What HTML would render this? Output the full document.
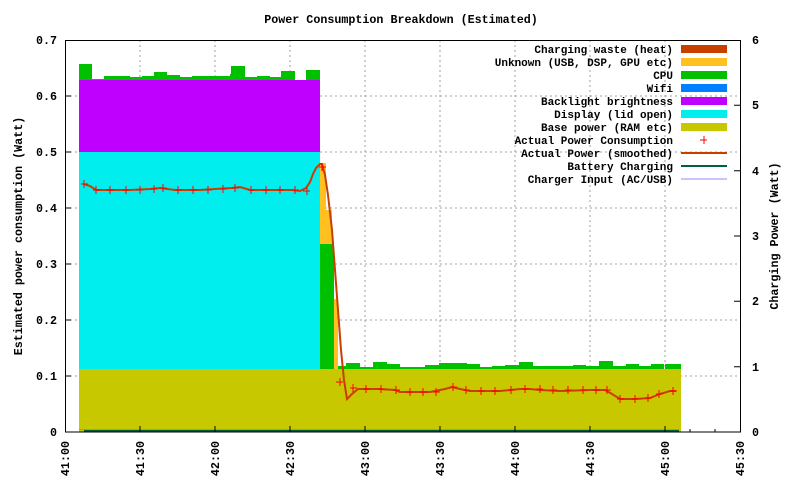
<!DOCTYPE html>
<html><head><meta charset="utf-8"><style>
body{margin:0;background:#fff}
svg text{font-family:"Liberation Mono",monospace;font-size:11.7px;font-weight:bold;fill:#000}
svg .lg text{font-size:11px}
</style></head><body>
<svg width="800" height="480" xmlns="http://www.w3.org/2000/svg">
<rect width="800" height="480" fill="#fff"/>
<text x="401" y="23" text-anchor="middle">Power Consumption Breakdown (Estimated)</text>
<g stroke="#a0a0a0" stroke-dasharray="2,3" stroke-width="1">
<line x1="65" y1="96" x2="740" y2="96"/><line x1="65" y1="152" x2="740" y2="152"/>
<line x1="65" y1="208" x2="740" y2="208"/><line x1="65" y1="264" x2="740" y2="264"/>
<line x1="65" y1="320" x2="740" y2="320"/><line x1="65" y1="376" x2="740" y2="376"/>
<line x1="140" y1="40" x2="140" y2="432"/><line x1="215" y1="40" x2="215" y2="432"/>
<line x1="290" y1="40" x2="290" y2="432"/><line x1="365" y1="40" x2="365" y2="432"/>
<line x1="440" y1="40" x2="440" y2="432"/><line x1="515" y1="40" x2="515" y2="432"/>
<line x1="590" y1="40" x2="590" y2="432"/><line x1="665" y1="40" x2="665" y2="432"/>
</g>
<g shape-rendering="crispEdges">
<rect x="79" y="64" width="13" height="20" fill="#00c000"/>
<rect x="92" y="79" width="12" height="5" fill="#00c000"/>
<rect x="104" y="76" width="26" height="8" fill="#00c000"/>
<rect x="130" y="77" width="12" height="7" fill="#00c000"/>
<rect x="142" y="76" width="12" height="8" fill="#00c000"/>
<rect x="154" y="72" width="13" height="12" fill="#00c000"/>
<rect x="167" y="75" width="13" height="9" fill="#00c000"/>
<rect x="180" y="77" width="12" height="7" fill="#00c000"/>
<rect x="192" y="76" width="38" height="8" fill="#00c000"/>
<rect x="230" y="74" width="12" height="10" fill="#00c000"/>
<rect x="231" y="66" width="14" height="18" fill="#00c000"/>
<rect x="245" y="77" width="12" height="7" fill="#00c000"/>
<rect x="257" y="76" width="13" height="8" fill="#00c000"/>
<rect x="270" y="77" width="12" height="7" fill="#00c000"/>
<rect x="281" y="71" width="14" height="13" fill="#00c000"/>
<rect x="306" y="70" width="14" height="14" fill="#00c000"/>
<rect x="79" y="80" width="241" height="72" fill="#c000ff"/>
<rect x="79" y="152" width="241" height="218" fill="#00eeee"/>
<rect x="79" y="369" width="602" height="63" fill="#c8c800"/>
<rect x="320" y="163" width="6" height="81" fill="#ffc020"/>
<rect x="326" y="210" width="6" height="34" fill="#ffc020"/>
<rect x="320" y="244" width="14" height="125" fill="#00c000"/>
<rect x="334" y="299" width="4" height="70" fill="#ffc020"/>
<rect x="338" y="366" width="8" height="3" fill="#00c000"/>
<rect x="346" y="363" width="14" height="6" fill="#00c000"/>
<rect x="360" y="367" width="13" height="2" fill="#00c000"/>
<rect x="373" y="362" width="14" height="7" fill="#00c000"/>
<rect x="387" y="364" width="13" height="5" fill="#00c000"/>
<rect x="400" y="367" width="25" height="2" fill="#00c000"/>
<rect x="425" y="365" width="14" height="4" fill="#00c000"/>
<rect x="439" y="363" width="14" height="6" fill="#00c000"/>
<rect x="453" y="363" width="14" height="6" fill="#00c000"/>
<rect x="467" y="364" width="13" height="5" fill="#00c000"/>
<rect x="480" y="367" width="12" height="2" fill="#00c000"/>
<rect x="492" y="366" width="13" height="3" fill="#00c000"/>
<rect x="505" y="365" width="14" height="4" fill="#00c000"/>
<rect x="519" y="362" width="14" height="7" fill="#00c000"/>
<rect x="533" y="366" width="40" height="3" fill="#00c000"/>
<rect x="573" y="365" width="13" height="4" fill="#00c000"/>
<rect x="586" y="366" width="13" height="3" fill="#00c000"/>
<rect x="599" y="361" width="14" height="8" fill="#00c000"/>
<rect x="613" y="366" width="13" height="3" fill="#00c000"/>
<rect x="626" y="364" width="13" height="5" fill="#00c000"/>
<rect x="639" y="366" width="12" height="3" fill="#00c000"/>
<rect x="651" y="364" width="13" height="5" fill="#00c000"/>
<rect x="665" y="364" width="16" height="5" fill="#00c000"/>
<rect x="79" y="429" width="600" height="1" fill="#a080ff"/>
<rect x="84" y="430" width="595" height="2" fill="#006040"/>
</g>
<polyline fill="none" stroke="#c84000" stroke-width="2" points="84,184 90,186 96,190 110,190 130,190 150,189 160,188 175,190 200,190 215,189 232,188 240,187 250,190 262,190 280,190 292,190 300,191 306,188 310,182 313,174 316,168 320,164 322,164 325,175 328,195 332,230 335,270 338,310 341,350 344,380 347,399 352,394 358,389 380,389 395,390 400,392 430,392 445,389 452,387 460,389 470,391 500,391 520,389 530,389 540,390 560,391 590,390 605,390 612,394 620,399 635,399 650,398 660,394 670,391 676,391"/>
<g stroke="#ff0000" stroke-width="1">
<path d="M81,184h7M84,180v8 M93,190h7M96,186v8 M107,190h7M110,186v8 M122,190h7M126,186v8 M136,190h7M140,186v8 M150,189h7M154,185v8 M160,188h7M163,184v8 M175,190h7M178,186v8 M190,190h7M193,186v8 M205,190h7M208,186v8 M220,189h7M223,185v8 M232,188h7M235,184v8 M248,190h7M251,186v8 M262,190h7M266,186v8 M277,190h7M280,186v8 M292,190h7M295,186v8 M303,191h7M307,187v8 M319,167h7M322,163v8 M336,382h7M340,378v8 M350,388h7M353,384v8 M363,389h7M366,385v8 M378,389h7M381,385v8 M393,390h7M396,386v8 M406,392h7M410,388v8 M420,392h7M423,388v8 M433,392h7M436,388v8 M450,387h7M453,383v8 M463,390h7M466,386v8 M478,391h7M481,387v8 M492,391h7M495,387v8 M508,390h7M511,386v8 M522,389h7M525,385v8 M536,389h7M540,385v8 M550,390h7M553,386v8 M565,390h7M568,386v8 M580,390h7M583,386v8 M593,390h7M596,386v8 M604,390h7M607,386v8 M617,399h7M620,395v8 M632,399h7M635,395v8 M645,398h7M648,394v8 M656,394h7M659,390v8 M670,391h7M673,387v8"/>
</g>
<rect x="65.5" y="40.5" width="675" height="391.5" fill="none" stroke="#000"/>
<g stroke="#000">
<path d="M65,96h6M65,152h6M65,208h6M65,264h6M65,320h6M65,376h6M740,366.7h-6M740,301.3h-6M740,236h-6M740,170.7h-6M740,105.3h-6"/>
<path d="M140,432v-6M215,432v-6M290,432v-6M365,432v-6M440,432v-6M515,432v-6M590,432v-6M665,432v-6M690,432v-3M715,432v-3"/>
</g>
<g text-anchor="end">
<text x="57" y="436">0</text><text x="57" y="380">0.1</text><text x="57" y="324">0.2</text>
<text x="57" y="268">0.3</text><text x="57" y="212">0.4</text><text x="57" y="156">0.5</text>
<text x="57" y="100">0.6</text><text x="57" y="44">0.7</text>
</g>
<g>
<text x="752" y="436">0</text><text x="752" y="371">1</text><text x="752" y="305">2</text>
<text x="752" y="240">3</text><text x="752" y="175">4</text><text x="752" y="109">5</text>
<text x="752" y="44">6</text>
</g>
<g text-anchor="end">
<text transform="translate(69,441) rotate(-90)">41:00</text>
<text transform="translate(144,441) rotate(-90)">41:30</text>
<text transform="translate(219,441) rotate(-90)">42:00</text>
<text transform="translate(294,441) rotate(-90)">42:30</text>
<text transform="translate(369,441) rotate(-90)">43:00</text>
<text transform="translate(444,441) rotate(-90)">43:30</text>
<text transform="translate(519,441) rotate(-90)">44:00</text>
<text transform="translate(594,441) rotate(-90)">44:30</text>
<text transform="translate(669,441) rotate(-90)">45:00</text>
<text transform="translate(744,441) rotate(-90)">45:30</text>
</g>
<text transform="translate(22,236) rotate(-90)" text-anchor="middle">Estimated power consumption (Watt)</text>
<text transform="translate(778,236) rotate(-90)" text-anchor="middle">Charging Power (Watt)</text>
<g text-anchor="end" class="lg">
<text x="673" y="53">Charging waste (heat)</text>
<text x="673" y="66">Unknown (USB, DSP, GPU etc)</text>
<text x="673" y="79">CPU</text>
<text x="673" y="92">Wifi</text>
<text x="673" y="105">Backlight brightness</text>
<text x="673" y="118">Display (lid open)</text>
<text x="673" y="131">Base power (RAM etc)</text>
<text x="673" y="144">Actual Power Consumption</text>
<text x="673" y="157">Actual Power (smoothed)</text>
<text x="673" y="170">Battery Charging</text>
<text x="673" y="183">Charger Input (AC/USB)</text>
</g>
<g shape-rendering="crispEdges">
<rect x="681" y="45" width="46" height="8" fill="#c84000"/>
<rect x="681" y="58" width="46" height="8" fill="#ffc020"/>
<rect x="681" y="71" width="46" height="8" fill="#00c000"/>
<rect x="681" y="84" width="46" height="8" fill="#0080ff"/>
<rect x="681" y="97" width="46" height="8" fill="#c000ff"/>
<rect x="681" y="110" width="46" height="8" fill="#00eeee"/>
<rect x="681" y="123" width="46" height="8" fill="#c8c800"/>
</g>
<path d="M700,140h7M704,136v8" stroke="#ff0000"/>
<line x1="681" y1="153" x2="727" y2="153" stroke="#c84000" stroke-width="2"/>
<line x1="681" y1="166" x2="727" y2="166" stroke="#006040" stroke-width="2"/>
<line x1="681" y1="179" x2="727" y2="179" stroke="#a080ff" stroke-width="1"/>
</svg>
</body></html>
